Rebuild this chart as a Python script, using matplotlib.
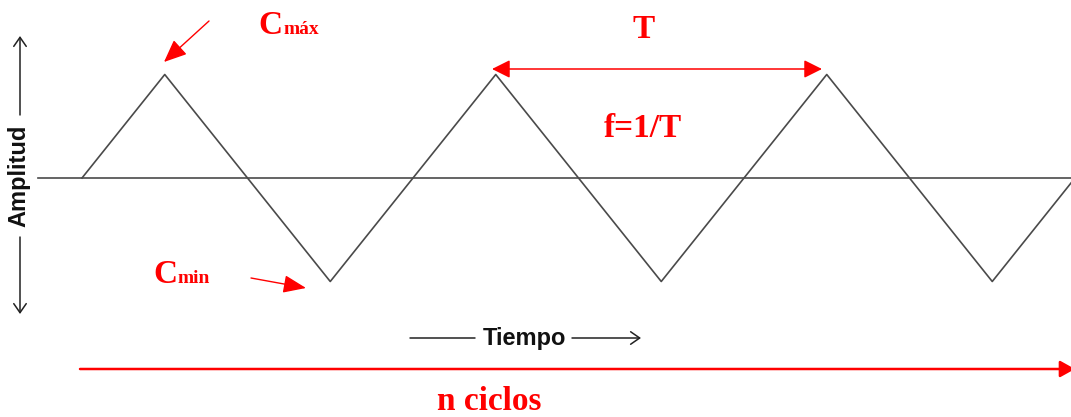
import matplotlib.pyplot as plt

# triangle wave: time in cycles, amplitude normalised to the peak
cycle_t = [0.0, 0.25, 0.75, 1.25, 1.75, 2.25, 2.75, 3.0]
amplitude = [0, 1, -1, 1, -1, 1, -1, 0]

W, H = 1071, 417
RED = '#ff0000'
GRAY = '#4a4a4a'
SERIF = 'Liberation Serif'
SANS = 'Liberation Sans'


def px(x, y):
    # pixel position (origin top-left) -> figure fraction
    return (x / W, 1 - y / H)


fig = plt.figure(figsize=(W / 100, H / 100), dpi=100)
ax = fig.add_axes([0, 0, 1, 1])
ax.set_xlim(-82 / 331, 989 / 331)
ax.set_ylim(-239 / 103.5, 178 / 103.5)
ax.axis('off')

# ---------------- wave + centre line ----------------
ax.axhline(0, xmin=38 / W, xmax=1, color=GRAY, lw=1.2)
ax.plot(cycle_t, amplitude, color=GRAY, lw=1.2)

# ---------------- black axis labels ----------------
def black_arrow(x0, y0, x1, y1, head=True):
    style = '->,head_length=0.65,head_width=0.45' if head else '-'
    ax.annotate('', xy=px(x1, y1), xytext=px(x0, y0),
                xycoords='figure fraction', textcoords='figure fraction',
                arrowprops=dict(arrowstyle=style, color='#222222', lw=1.1,
                                shrinkA=0, shrinkB=0, mutation_scale=10))

fig.text(*px(19, 176), 'Amplitud', rotation=90, ha='center', va='center',
         family=SANS, weight='bold', fontsize=17, color='#111111')
black_arrow(20, 115, 20, 36)
black_arrow(20, 237, 20, 314)

fig.text(*px(524, 339), 'Tiempo', ha='center', va='center',
         family=SANS, weight='bold', fontsize=17, color='#111111')
black_arrow(410, 338, 475, 338, head=False)
black_arrow(572, 338, 641, 338)

# ---------------- red annotations ----------------
def red_arrow(x0, y0, x1, y1, style, lw=1.0, scale=10):
    ax.annotate('', xy=px(x1, y1), xytext=px(x0, y0),
                xycoords='figure fraction', textcoords='figure fraction',
                arrowprops=dict(arrowstyle=style, color=RED, lw=lw,
                                shrinkA=0, shrinkB=0, mutation_scale=scale),
                annotation_clip=False)

# C max
fig.text(*px(258, 34), 'C', ha='left', va='baseline', family=SERIF,
         weight='bold', fontsize=24, color=RED)
fig.text(*px(283, 34), 'máx', ha='left', va='baseline', family=SERIF,
         weight='bold', fontsize=14, color=RED)
red_arrow(209, 21, 164, 62, '-|>,head_length=1.4,head_width=0.6')

# C min
fig.text(*px(153, 283), 'C', ha='left', va='baseline', family=SERIF,
         weight='bold', fontsize=24, color=RED)
fig.text(*px(177, 283), 'min', ha='left', va='baseline', family=SERIF,
         weight='bold', fontsize=14, color=RED)
red_arrow(251, 278, 306, 288, '-|>,head_length=1.4,head_width=0.55')

# period
fig.text(*px(644, 38), 'T', ha='center', va='baseline', family=SERIF,
         weight='bold', fontsize=24, color=RED)
red_arrow(492, 69, 822, 69, '<|-|>,head_length=1.1,head_width=0.55', lw=1.1)
fig.text(*px(643, 137), 'f=1/T', ha='center', va='baseline', family=SERIF,
         weight='bold', fontsize=24, color=RED)

# n cycles
red_arrow(80, 369, 1075, 369, '-|>,head_length=0.9,head_width=0.5', lw=1.8)
fig.text(*px(489, 410), 'n ciclos', ha='center', va='baseline', family=SERIF,
         weight='bold', fontsize=24, color=RED)

fig.savefig('out.png', dpi=100, facecolor='white')
